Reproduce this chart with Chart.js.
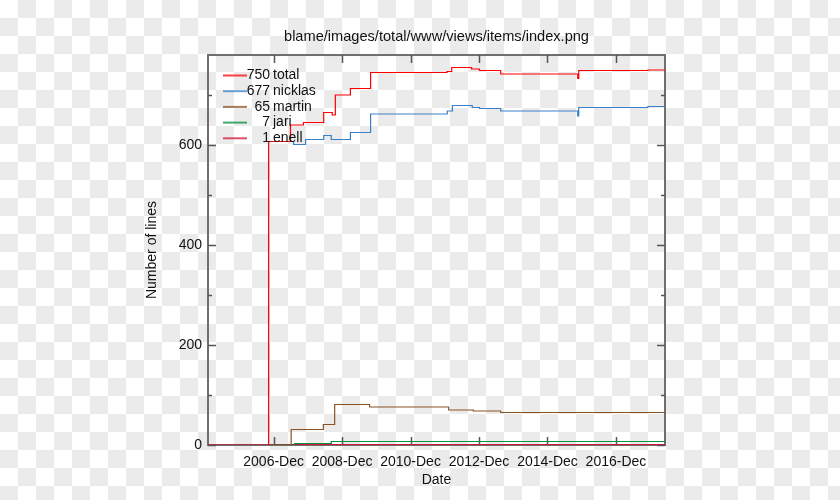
<!DOCTYPE html>
<html>
<head>
<meta charset="utf-8">
<script src="https://cdn.jsdelivr.net/npm/chart.js@4.4.0/dist/chart.umd.min.js"></script>
<style>
html,body{margin:0;padding:0}
body{width:840px;height:500px;background:#fff repeating-conic-gradient(#ebebeb 0 25%,#fff 0 50%) 0 0/36px 36px}
#wrap{position:absolute;left:0;top:0;width:840px;height:500px}
</style>
</head>
<body>
<div id="wrap"><canvas id="c" width="840" height="500"></canvas></div>
<script>
// decimal years, value changes at each x (step chart)
const seriesNames=['total','nicklas','martin','jari','enell'];
const seriesColors=['#ff0000','#3a80c6','#8a5224','#00903c','#d0143c'];

const totalX=[2005.0,2006.77,2007.41,2007.79,2008.38,2008.63,2008.72,2009.16,2009.75,2011.98,2012.12,2012.70,2012.93,2013.55,2015.80,2015.83,2017.85,2018.35];
const totalY=[0,607,640,645,665,660,700,713,745,747,755,752,749,742,733,749,750,750];

const nicklasX=[2005.0,2006.77,2007.50,2007.85,2008.38,2008.60,2009.16,2009.75,2011.99,2012.14,2012.72,2012.93,2013.55,2015.80,2015.83,2017.85,2018.35];
const nicklasY=[0,607,601,611,619,611,625,662,668,679,675,673,668,658,675,677,677];

const martinX=[2005.0,2007.43,2008.37,2008.70,2009.72,2012.03,2012.75,2013.55,2018.35];
const martinY=[0,31,41,81,76,70,68,65,65];

const jariX=[2005.0,2007.53,2008.60,2018.35];
const jariY=[0,3,7,7];

const enellX=[2005.0,2006.77,2018.35];
const enellY=[0,1,1];

const xTicks=[2006.917,2008.917,2010.917,2012.917,2014.917,2016.917];
const yTicks=[0,200,400,600];
const yMinorStep=100;
const xMin=2005.0,xMax=2018.35,yMin=0,yMax=780;

const chartTitle='blame/images/total/www/views/items/index.png';
const FONT='"Liberation Sans", Arial, sans-serif';

const allX=[totalX,nicklasX,martinX,jariX,enellX];
const allY=[totalY,nicklasY,martinY,jariY,enellY];
const datasets=seriesNames.map((n,i)=>({
  label:n,
  data:allX[i].map((x,j)=>({x,y:allY[i][j]})),
  borderColor:seriesColors[i],
  borderWidth:1.2,
  pointRadius:0,
  stepped:'before',
  fill:false
}));

// frame + inward ticks, legend drawn inside the plot
const framePlugin={
  id:'frame',
  beforeDatasetsDraw(chart){
    const {ctx,chartArea:a,scales:{x,y}}=chart;
    ctx.save();
    ctx.strokeStyle='#6e6e6e';
    ctx.lineWidth=2;
    ctx.strokeRect(a.left,a.top,a.right-a.left,a.bottom-a.top);
    ctx.lineWidth=1.5;
    ctx.strokeStyle='#555';
    ctx.beginPath();
    for(let v=yMin;v<=yMax;v+=yMinorStep){
      const py=Math.round(y.getPixelForValue(v))+0.5;
      const len=yTicks.includes(v)?8:4;
      ctx.moveTo(a.left,py);ctx.lineTo(a.left+len,py);
      ctx.moveTo(a.right,py);ctx.lineTo(a.right-len,py);
    }
    xTicks.forEach(v=>{
      const px=Math.round(x.getPixelForValue(v))+0.5;
      ctx.moveTo(px,a.bottom);ctx.lineTo(px,a.bottom-8);
      ctx.moveTo(px,a.top);ctx.lineTo(px,a.top+8);
    });
    ctx.stroke();
    ctx.restore();
  },
  afterDatasetsDraw(chart){
    const {ctx}=chart;
    ctx.save();
    ctx.font='14px '+FONT;
    ctx.textBaseline='middle';
    chart.data.datasets.forEach((ds,i)=>{
      const yy=75.5+i*15.7;
      ctx.globalAlpha=0.75;
      ctx.strokeStyle=ds.borderColor;
      ctx.lineWidth=2;
      ctx.beginPath();ctx.moveTo(223,yy);ctx.lineTo(247,yy);ctx.stroke();
      ctx.globalAlpha=1;
      ctx.fillStyle='#111';
      const last=ds.data[ds.data.length-1].y;
      ctx.textAlign='right';ctx.fillText(String(last),270,yy);
      ctx.textAlign='left';ctx.fillText(ds.label,273,yy);
    });
    ctx.restore();
  }
};

new Chart(document.getElementById('c'),{
  type:'line',
  data:{datasets},
  plugins:[framePlugin],
  options:{
    responsive:false,
    animation:false,
    layout:{padding:{left:0,right:175,top:0,bottom:0}},
    plugins:{
      legend:{display:false},
      tooltip:{enabled:false},
      title:{display:true,text:chartTitle,fullSize:false,color:'#111',
        font:{family:FONT,size:14.6,weight:'normal'},padding:{top:28,bottom:9.5}}
    },
    scales:{
      x:{type:'linear',min:xMin,max:xMax,
        afterBuildTicks(s){s.ticks=xTicks.map(v=>({value:v}))},
        afterFit(s){s.height=55},
        grid:{display:false,drawTicks:false},border:{display:false},
        ticks:{color:'#111',font:{family:FONT,size:14},padding:9,maxRotation:0,autoSkip:false,
          callback:v=>Math.floor(v)+'-Dec'},
        title:{display:true,text:'Date',color:'#111',font:{family:FONT,size:14},padding:{top:0,bottom:11}}
      },
      y:{min:yMin,max:yMax,
        afterBuildTicks(s){s.ticks=yTicks.map(v=>({value:v}))},
        afterFit(s){s.width=208},
        grid:{display:false,drawTicks:false},border:{display:false},
        ticks:{color:'#111',font:{family:FONT,size:14},padding:6},
        title:{display:true,text:'Number of lines',color:'#111',font:{family:FONT,size:14},padding:{top:144,bottom:0}}
      }
    }
  }
});
</script>
</body>
</html>
